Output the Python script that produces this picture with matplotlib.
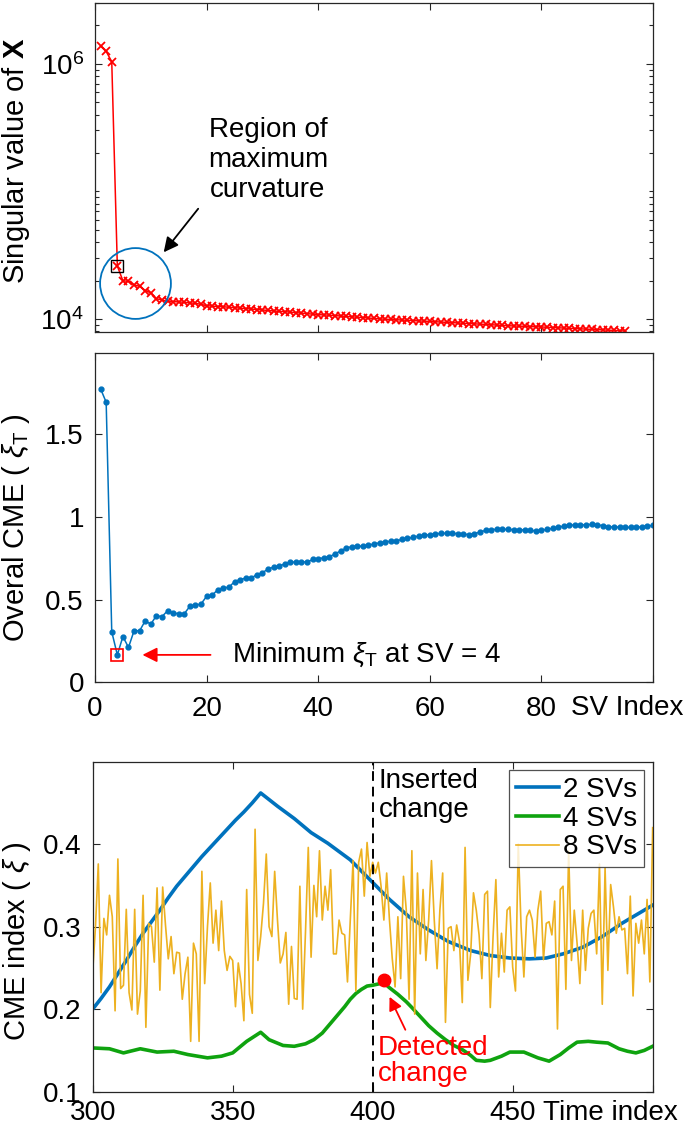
import matplotlib
matplotlib.use("Agg")
import matplotlib.pyplot as plt
from matplotlib.ticker import FixedLocator, LogLocator, NullFormatter

plt.rcParams["font.family"] = ["Liberation Sans", "DejaVu Sans"]
plt.rcParams["mathtext.fontset"] = "custom"
plt.rcParams["mathtext.rm"] = "Liberation Sans"
plt.rcParams["mathtext.it"] = "Liberation Sans:italic"
plt.rcParams["mathtext.bf"] = "Liberation Sans:bold"

# --- panel 1: singular values of X (index 1..95)
sv_values = [
    1.38e6, 1.25e6, 1.04e6, 2.6e4, 1.99e4, 1.97e4, 1.85e4, 1.80e4, 1.67e4, 1.60e4,
    1.44e4, 1.41e4, 13700, 13650, 13600, 13500, 13350, 13250, 13000, 12700,
    12600, 12500, 12450, 12350, 12250, 12150, 12050, 11950, 11850, 11750,
    11650, 11550, 11450, 11400, 11300, 11200, 11100, 11000, 10900, 10800,
    10750, 10700, 10600, 10550, 10450, 10400, 10300, 10250, 10150, 10100,
    10000, 9950, 9900, 9850, 9800, 9750, 9700, 9650, 9600, 9560,
    9500, 9450, 9400, 9350, 9300, 9250, 9200, 9150, 9100, 9050,
    9000, 8950, 8900, 8850, 8800, 8780, 8750, 8700, 8680, 8650,
    8600, 8560, 8520, 8480, 8440, 8400, 8360, 8320, 8280, 8240,
    8200, 8160, 8120, 8080, 8040,
]
sv_index = list(range(1, len(sv_values) + 1))

# --- panel 2: overall CME per number of SVs (1..100)
cme_total = [
    1.775, 1.694, 0.306, 0.166, 0.277, 0.211, 0.312, 0.312, 0.372, 0.352,
    0.403, 0.397, 0.433, 0.419, 0.415, 0.415, 0.460, 0.466, 0.474, 0.520,
    0.526, 0.561, 0.571, 0.575, 0.609, 0.621, 0.630, 0.630, 0.652, 0.662,
    0.686, 0.696, 0.702, 0.717, 0.727, 0.727, 0.729, 0.727, 0.743, 0.747,
    0.753, 0.759, 0.777, 0.794, 0.812, 0.820, 0.822, 0.824, 0.830, 0.836,
    0.844, 0.848, 0.854, 0.856, 0.864, 0.870, 0.877, 0.885, 0.889, 0.893,
    0.897, 0.901, 0.901, 0.901, 0.899, 0.897, 0.893, 0.899, 0.909, 0.919,
    0.923, 0.925, 0.925, 0.925, 0.923, 0.923, 0.921, 0.919, 0.915, 0.919,
    0.925, 0.931, 0.937, 0.945, 0.951, 0.951, 0.951, 0.953, 0.955, 0.953,
    0.947, 0.941, 0.939, 0.939, 0.937, 0.937, 0.937, 0.941, 0.945, 0.949,
]
cme_index = list(range(1, len(cme_total) + 1))
best_sv = 4

# --- panel 3: CME index over time
t_2sv = [300, 303, 306, 309, 312, 315, 318, 321, 324, 327, 330, 333, 336, 339, 342, 345,
         348, 351, 354, 357, 360, 366, 372, 378, 384, 392, 399, 406, 413, 420, 427, 435,
         442, 449, 456, 462, 468, 475, 482, 489, 496, 500]
cme_2sv = [0.200, 0.213, 0.227, 0.243, 0.259, 0.276, 0.292, 0.306, 0.320, 0.335, 0.349,
           0.361, 0.373, 0.385, 0.396, 0.407, 0.418, 0.429, 0.439, 0.450, 0.462, 0.446,
           0.431, 0.414, 0.401, 0.381, 0.357, 0.333, 0.312, 0.296, 0.282, 0.271, 0.265,
           0.262, 0.261, 0.262, 0.267, 0.275, 0.288, 0.304, 0.318, 0.326]
t_4sv = [300, 306, 311, 317, 323, 329, 334, 341, 346, 350, 355, 360, 363, 368, 372, 376,
         379, 382, 385, 388, 390, 392, 394, 396, 398, 400, 404, 406, 409, 412, 414, 417,
         420, 423, 426, 429, 432, 435, 437, 440, 442, 446, 449, 454, 459, 463, 467, 470,
         473, 477, 480, 484, 488, 491, 494, 497, 500]
cme_4sv = [0.153, 0.152, 0.147, 0.152, 0.148, 0.149, 0.145, 0.141, 0.143, 0.147, 0.161,
           0.172, 0.163, 0.156, 0.155, 0.158, 0.163, 0.171, 0.183, 0.195, 0.203, 0.212,
           0.219, 0.224, 0.228, 0.229, 0.232, 0.226, 0.218, 0.209, 0.202, 0.191, 0.180,
           0.171, 0.163, 0.156, 0.151, 0.144, 0.138, 0.137, 0.138, 0.143, 0.148, 0.148,
           0.141, 0.137, 0.145, 0.153, 0.160, 0.161, 0.160, 0.159, 0.152, 0.149, 0.147,
           0.150, 0.155]
t_8sv = list(range(300, 501))
cme_8sv = [
    0.245, 0.300, 0.376, 0.220, 0.310, 0.290, 0.338, 0.312, 0.198, 0.382,
    0.225, 0.229, 0.321, 0.220, 0.199, 0.321, 0.194, 0.222, 0.338, 0.178,
    0.304, 0.300, 0.257, 0.347, 0.223, 0.348, 0.302, 0.261, 0.288, 0.243,
    0.269, 0.268, 0.212, 0.243, 0.263, 0.161, 0.280, 0.267, 0.161, 0.367,
    0.231, 0.300, 0.353, 0.280, 0.320, 0.271, 0.331, 0.271, 0.247, 0.264,
    0.259, 0.203, 0.256, 0.231, 0.186, 0.345, 0.218, 0.195, 0.418, 0.259,
    0.288, 0.328, 0.388, 0.300, 0.288, 0.367, 0.308, 0.256, 0.267, 0.293,
    0.206, 0.276, 0.213, 0.212, 0.349, 0.200, 0.293, 0.396, 0.263, 0.350,
    0.312, 0.392, 0.308, 0.349, 0.320, 0.369, 0.267, 0.267, 0.308, 0.292,
    0.290, 0.233, 0.308, 0.380, 0.222, 0.378, 0.394, 0.337, 0.402, 0.361,
    0.378, 0.365, 0.378, 0.349, 0.308, 0.365, 0.308, 0.261, 0.227, 0.312,
    0.237, 0.361, 0.320, 0.212, 0.392, 0.194, 0.365, 0.267, 0.345, 0.259,
    0.308, 0.380, 0.308, 0.249, 0.320, 0.365, 0.184, 0.298, 0.300, 0.271,
    0.302, 0.282, 0.208, 0.396, 0.235, 0.267, 0.341, 0.320, 0.290, 0.237,
    0.339, 0.343, 0.202, 0.288, 0.357, 0.239, 0.292, 0.245, 0.320, 0.324,
    0.251, 0.222, 0.400, 0.300, 0.239, 0.312, 0.320, 0.308, 0.263, 0.320,
    0.343, 0.260, 0.304, 0.306, 0.290, 0.331, 0.176, 0.345, 0.349, 0.224,
    0.392, 0.259, 0.320, 0.280, 0.231, 0.320, 0.247, 0.298, 0.316, 0.320,
    0.267, 0.376, 0.206, 0.371, 0.247, 0.351, 0.324, 0.292, 0.312, 0.296,
    0.298, 0.243, 0.337, 0.216, 0.304, 0.280, 0.308, 0.267, 0.333, 0.233,
    0.420,
]
inserted_change = 400
detected_t, detected_cme = 404, 0.235

BLUE = "#0072BD"
ORANGE = "#EDB120"
GREEN = "#0FA30F"
RED = "#FF0000"
FS = 20
LFS = 21


def _style(ax, xpad=10):
    for s in ax.spines.values():
        s.set_color("#262626")
        s.set_linewidth(0.9)
    ax.tick_params(which="both", direction="in", top=True, right=True, colors="#262626",
                   labelcolor="black", labelsize=FS)
    ax.tick_params(axis="x", pad=xpad)
    ax.tick_params(axis="y", pad=8)
    ax.tick_params(which="major", length=5, width=0.8)
    ax.tick_params(which="minor", length=3, width=0.8)


fig = plt.figure(figsize=(6.85, 11.28), dpi=100)

# top panel
ax1 = fig.add_axes([0.1387, 0.7057, 0.8146, 0.2917])
ax1.semilogy(sv_index, sv_values, color=RED, lw=1.1, marker="x", ms=5.5, mew=1.3)
ax1.set_xlim(0, 100)
ax1.set_ylim(7900, 3e6)
ax1.xaxis.set_major_locator(FixedLocator([0, 20, 40, 60, 80, 100]))
ax1.set_xticklabels([])
ax1.yaxis.set_major_locator(FixedLocator([1e4, 1e6]))
ax1.yaxis.set_minor_locator(LogLocator(base=10, subs=[1, 2, 3, 4, 5, 6, 7, 8, 9]))
ax1.yaxis.set_minor_formatter(NullFormatter())
_style(ax1)
ax1.set_ylabel(r"Singular value of $\mathbf{X}$", fontsize=LFS)
ax1.yaxis.set_label_coords(-0.113, 0.52)
ax1.plot([best_sv], [sv_values[best_sv - 1]], marker="s", ms=8, mfc="none", mec="black", mew=1)
ax1.plot([7.2], [1.91e4], marker="o", ms=51, mfc="none", mec=BLUE, mew=1.3)
ax1.annotate("", xy=(12.0, 3.2e4), xytext=(18.8, 7.6e4),
             arrowprops=dict(arrowstyle="-|>", color="black", lw=1.3, mutation_scale=22))
ax1.text(31, 1.76e5, "Region of\nmaximum\ncurvature", fontsize=FS, ha="center", va="center",
         linespacing=1.2)

# middle panel
ax2 = fig.add_axes([0.1387, 0.3951, 0.8146, 0.2917])
ax2.plot(cme_index, cme_total, color=BLUE, lw=1.1, marker=".", ms=7)
ax2.set_xlim(0, 100)
ax2.set_ylim(0, 1.99)
ax2.set_xticks([0, 20, 40, 60, 80, 100])
ax2.set_xticklabels(["0", "20", "40", "60", "80", ""])
ax2.set_yticks([0, 0.5, 1, 1.5])
ax2.set_yticklabels(["0", "0.5", "1", "1.5"])
_style(ax2)
ax2.set_ylabel(r"Overal CME ( $\xi_\mathrm{T}$ )", fontsize=LFS)
ax2.yaxis.set_label_coords(-0.113, 0.47)
ax2.text(0.953, -0.077, "SV Index", transform=ax2.transAxes, fontsize=FS, ha="center", va="center")
ax2.plot([best_sv], [cme_total[best_sv - 1]], marker="s", ms=9, mfc="none", mec=RED, mew=1.2)
ax2.annotate("", xy=(8.0, 0.166), xytext=(21.2, 0.166),
             arrowprops=dict(arrowstyle="-|>", color=RED, lw=1.3, mutation_scale=22))
ax2.text(24.5, 0.166, r"Minimum $\xi_\mathrm{T}$ at SV = 4", fontsize=FS, ha="left", va="center")

# bottom panel
ax3 = fig.add_axes([0.1353, 0.0322, 0.8175, 0.2926])
ax3.plot(t_2sv, cme_2sv, color=BLUE, lw=2.6, label="2 SVs")
ax3.plot(t_4sv, cme_4sv, color=GREEN, lw=2.6, label="4 SVs")
ax3.plot(t_8sv, cme_8sv, color=ORANGE, lw=1.2, label="8 SVs")
ax3.axvline(inserted_change, color="black", lw=1.4, ls=(0, (5, 3)))
ax3.plot([detected_t], [detected_cme], "o", color=RED, ms=9)
ax3.set_xlim(300, 500)
ax3.set_ylim(0.1, 0.5)
ax3.set_xticks([300, 350, 400, 450, 500])
ax3.set_xticklabels(["300", "350", "400", "450", ""])
ax3.set_yticks([0.1, 0.2, 0.3, 0.4])
ax3.set_yticklabels(["0.1", "0.2", "0.3", "0.4"])
_style(ax3, xpad=6)
ax3.set_ylabel(r"CME index ( $\xi$ )", fontsize=LFS)
ax3.yaxis.set_label_coords(-0.107, 0.455)
ax3.text(0.925, -0.064, "Time index", transform=ax3.transAxes, fontsize=FS, ha="center", va="center")
ax3.text(402.2, 0.492, "Inserted\nchange", fontsize=FS, ha="left", va="top", linespacing=1.15)
ax3.text(401.8, 0.137, "Detected\nchange", fontsize=FS, ha="left", va="center", color=RED,
         linespacing=1.0)
ax3.annotate("", xy=(405.6, 0.218), xytext=(412.1, 0.172),
             arrowprops=dict(arrowstyle="-|>", color=RED, lw=1.3, mutation_scale=20))
leg = ax3.legend(loc="upper right", fontsize=FS, frameon=True, fancybox=False, handlelength=1.55,
                 handletextpad=0.15, borderpad=0.25, labelspacing=0.1, borderaxespad=0.3)
leg.get_frame().set_edgecolor("#262626")
leg.get_frame().set_linewidth(0.9)

fig.savefig("out.png", dpi=100)
